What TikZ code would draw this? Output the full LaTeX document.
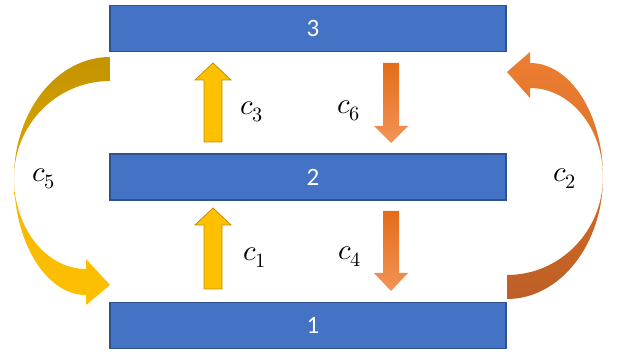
\documentclass[tikz,border=0pt]{standalone}
\usepackage{unicode-math}
\newfontfamily\barfont{Carlito}
\usetikzlibrary{arrows.meta}
\tikzset{>={Latex[width=1.5mm,length=1.5mm]}}

\definecolor{barblue}{HTML}{4472C4}
\definecolor{barline}{HTML}{2F528F}
\definecolor{amber}{HTML}{FFC000}
\definecolor{amberline}{HTML}{BF9000}
\definecolor{ambdark}{HTML}{C49300}
\definecolor{ambmid}{HTML}{DDA700}
\definecolor{rust}{HTML}{ED7D31}
\definecolor{rustdark}{HTML}{BD5F26}
\definecolor{rustmid}{HTML}{D46A24}
\definecolor{rusttop}{HTML}{E46C1B}
\definecolor{rustlow}{HTML}{F39455}

\tikzset{
  level/.style={draw=barline, line width=1.2pt, fill=barblue, minimum width=396pt,
    minimum height=46pt, inner sep=0pt, text=white, font=\barfont\fontsize{25}{28}\selectfont},
  rate/.style={inner sep=0pt, font=\fontsize{29}{33}\selectfont},
  uparr/.style={fill=amber, draw=amberline, line width=0.8pt},
  downarr/.style={top color=rusttop, bottom color=rustlow}
}

\begin{document}
\begin{tikzpicture}[x=1pt,y=1pt]
    \useasboundingbox (0,0) rectangle (622,354);

    \node[level] (L3) at (308,325.5) {\hspace{10pt}3};
    \node[level] (L2) at (308,177) {\hspace{10pt}2};
    \node[level] (L1) at (308,28.5) {\hspace{10pt}1};

    % straight transitions
    \draw[uparr] (204,65) -- (204,129) -- (195,129) -- (213,146) -- (231,129) -- (222,129) -- (222,65) -- cycle;
    \draw[uparr] (204,212) -- (204,274) -- (195,274) -- (213,291) -- (231,274) -- (222,274) -- (222,212) -- cycle;
    \shade[downarr] (383,143) -- (383,81) -- (374,81) -- (391,63) -- (408,81) -- (399,81) -- (399,143) -- cycle;
    \shade[downarr] (383,291) -- (383,228) -- (374,228) -- (391,211) -- (408,228) -- (399,228) -- (399,291) -- cycle;

    % 3 -> 1 round the left
    \shade[top color=ambdark, bottom color=ambmid]
      (110,297) arc[start angle=90, end angle=180, x radius=96, y radius=121]
      arc[start angle=180, end angle=90, x radius=96, y radius=97] -- cycle;
    \shade[top color=amber!95!black, bottom color=amber]
      (14,176) arc[start angle=180, end angle=270, x radius=72, y radius=117]
      -- (86,49) -- (110,69) -- (86,95) -- (86,85)
      arc[start angle=270, end angle=180, x radius=72, y radius=91] -- cycle;

    % 1 -> 3 round the right
    \shade[top color=rustmid, bottom color=rustdark]
      (507,55) arc[start angle=270, end angle=360, x radius=96, y radius=122]
      arc[start angle=0, end angle=-90, x radius=96, y radius=98] -- cycle;
    \shade[top color=rust, bottom color=rust!92!black]
      (603,177) arc[start angle=0, end angle=90, x radius=73, y radius=114]
      -- (530,302) -- (507,282) -- (530,256) -- (530,266)
      arc[start angle=90, end angle=0, x radius=73, y radius=89] -- cycle;

    \node[rate] (c1) at (255,96) {$c_1$};
    \node[rate] (c2) at (565,175) {$c_2$};
    \node[rate] (c3) at (252,242) {$c_3$};
    \node[rate] (c4) at (350,97) {$c_4$};
    \node[rate] (c5) at (44,175) {$c_5$};
    \node[rate] (c6) at (349,243) {$c_6$};
\end{tikzpicture}
\end{document}
